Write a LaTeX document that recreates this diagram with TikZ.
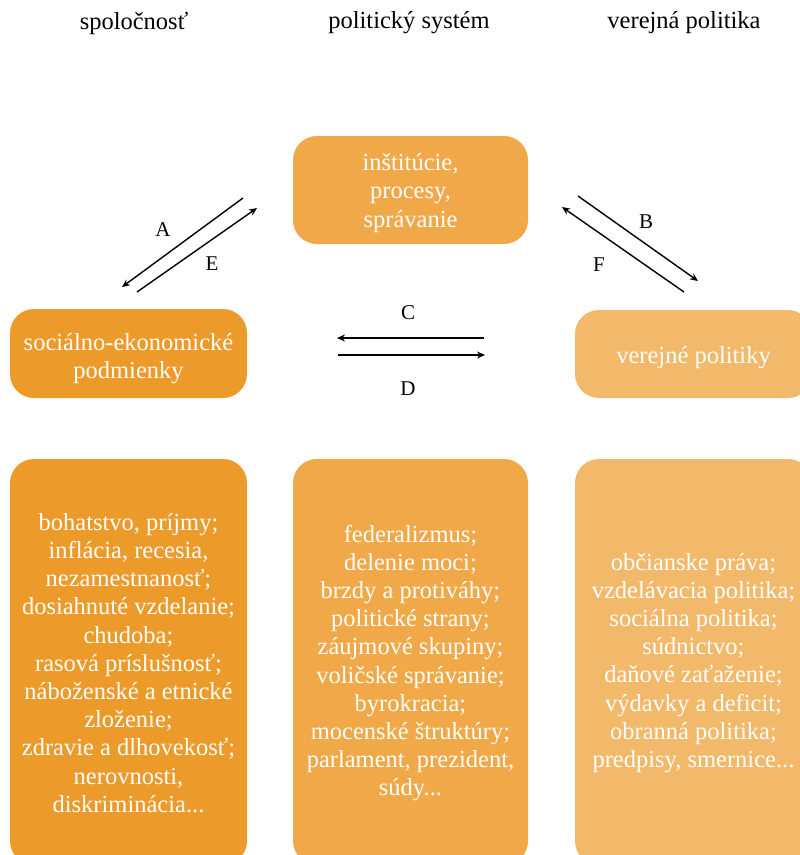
\documentclass[tikz,border=0pt]{standalone}
\usepackage{fontspec}
\setmainfont{Liberation Serif}
\usetikzlibrary{arrows.meta}
\definecolor{socOrange}{HTML}{EC9A29}
\definecolor{polOrange}{HTML}{F0A848}
\definecolor{pubOrange}{HTML}{F2B96B}
\begin{document}
\begin{tikzpicture}[x=1pt,y=-1pt,
  box/.style={fill=#1, draw=none, rounded corners=24pt, inner sep=0pt},
  boxtext/.style={text=white, align=center, inner sep=0pt,
    font=\fontsize{24.5}{28.2}\selectfont},
  head/.style={font=\fontsize{24.5}{28}\selectfont, anchor=center},
  lbl/.style={font=\fontsize{21}{24}\selectfont},
  flow/.style={line width=1.4pt, -{Stealth[length=8pt,width=7pt]}}]
\useasboundingbox (0,0) rectangle (800,855);

% column headings
\node[head] (hsoc) at (134,23) {spoločnosť};
\node[head] (hpol) at (409,23) {politický systém};
\node[head] (hpub) at (684,23) {verejná politika};

% middle row
\node[box=polOrange, minimum width=235pt, minimum height=108pt] (inst) at (410.5,190) {};
\node[boxtext] (instT) at (410.5,193) {inštitúcie,\\procesy,\\správanie};
\node[box=socOrange, minimum width=237pt, minimum height=89pt] (cond) at (128.5,353.5) {};
\node[boxtext] (condT) at (128.5,358.5) {sociálno-ekonomické\\podmienky};
\node[box=pubOrange, minimum width=237pt, minimum height=88pt] (pol) at (693.5,354) {};
\node[boxtext] (polT) at (693.5,358) {verejné politiky};

% bottom row
\node[box=socOrange, minimum width=237pt, minimum height=406pt] (socl) at (128.5,662) {};
\node[boxtext] (soclT) at (128.5,663)
  {bohatstvo, príjmy;\\inflácia, recesia,\\nezamestnanosť;\\dosiahnuté vzdelanie;\\chudoba;\\rasová príslušnosť;\\náboženské a etnické\\zloženie;\\zdravie a dlhovekosť;\\nerovnosti,\\diskriminácia...};
\node[box=polOrange, minimum width=235pt, minimum height=406pt] (poll) at (410.5,662) {};
\node[boxtext] (pollT) at (410.5,663)
  {federalizmus;\\delenie moci;\\brzdy a protiváhy;\\politické strany;\\záujmové skupiny;\\voličské správanie;\\byrokracia;\\mocenské štruktúry;\\parlament, prezident,\\súdy...};
\node[box=pubOrange, minimum width=237pt, minimum height=406pt] (publ) at (693.5,662) {};
\node[boxtext] (publT) at (693.5,663)
  {občianske práva;\\vzdelávacia politika;\\sociálna politika;\\súdnictvo;\\daňové zaťaženie;\\výdavky a deficit;\\obranná politika;\\predpisy, smernice...};

% arrow end points
\coordinate (a1) at (243,198); \coordinate (a2) at (122,287);
\coordinate (e1) at (137,292); \coordinate (e2) at (257,208);
\coordinate (b1) at (578,196); \coordinate (b2) at (698,281);
\coordinate (f1) at (684,292); \coordinate (f2) at (562,207);
\coordinate (c1) at (484,338); \coordinate (c2) at (337,338);
\coordinate (d1) at (338,355); \coordinate (d2) at (485,355);

% influence arrows
\draw[flow] (a1) -- (a2);
\draw[flow] (e1) -- (e2);
\draw[flow] (b1) -- (b2);
\draw[flow] (f1) -- (f2);
\draw[flow] (c1) -- (c2);
\draw[flow] (d1) -- (d2);

% arrow labels
\node[lbl] (la) at (163,230) {A};
\node[lbl] (le) at (212,264) {E};
\node[lbl] (lb) at (646,222) {B};
\node[lbl] (lf) at (599,265) {F};
\node[lbl] (lc) at (408,313) {C};
\node[lbl] (ld) at (408,389) {D};
\end{tikzpicture}
\end{document}
